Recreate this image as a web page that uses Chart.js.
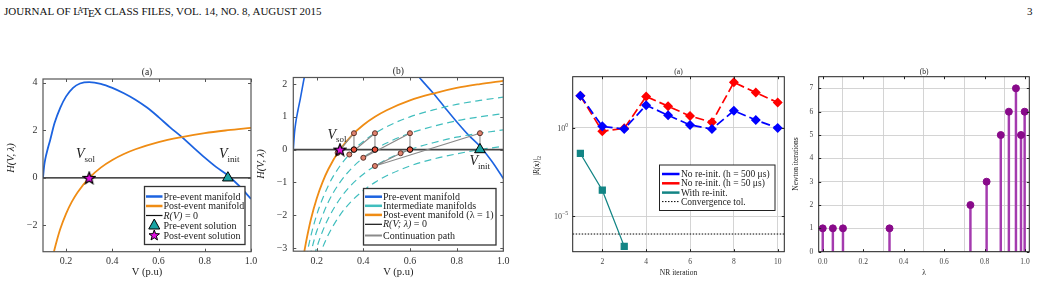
<!DOCTYPE html>
<html><head><meta charset="utf-8">
<script src="https://cdn.jsdelivr.net/npm/chart.js@4.4.1/dist/chart.umd.min.js"></script>
<style>
html,body{margin:0;padding:0;background:#fff;width:1041px;height:285px;overflow:hidden;}
canvas{position:absolute;left:0;top:0;}
#hdr{position:absolute;left:4px;top:5px;font-family:"Liberation Serif",serif;font-size:11px;color:#111;white-space:nowrap;}
#hdr .la{font-size:0.72em;position:relative;top:-0.25em;margin-left:-0.32em;margin-right:-0.12em;}
#hdr .le{position:relative;top:0.22em;margin-left:-0.1em;margin-right:-0.08em;}
#pg{position:absolute;left:1027px;top:5px;font-family:"Liberation Serif",serif;font-size:11px;color:#111;}
</style></head><body>
<div id="hdr">JOURNAL OF L<span class="la">A</span>T<span class="le">E</span>X CLASS FILES, VOL. 14, NO. 8, AUGUST 2015</div>
<div id="pg">3</div>
<canvas id="c1" width="1041" height="285"></canvas>
<canvas id="c2" width="1041" height="285"></canvas>
<canvas id="c3" width="1041" height="285"></canvas>
<canvas id="c4" width="1041" height="285"></canvas>
<script>
// ================= DATA =================
// Left figure: manifolds H(V, lambda)
const preV  = [0.1, 0.105, 0.11, 0.12, 0.13, 0.15, 0.175, 0.2, 0.23, 0.26, 0.3, 0.35, 0.4, 0.45, 0.5, 0.55, 0.6, 0.65, 0.7, 0.75, 0.8, 0.85, 0.9, 0.95, 1.0];
const preH  = [0, 0.5, 0.8, 1.2, 1.55, 2.3, 2.95, 3.42, 3.78, 3.96, 4.02, 3.95, 3.78, 3.55, 3.28, 2.95, 2.55, 2.12, 1.72, 1.28, 0.85, 0.45, 0.1, -0.35, -0.88];
const postV = [0.14, 0.15, 0.16, 0.175, 0.2, 0.225, 0.25, 0.3, 0.35, 0.4, 0.45, 0.5, 0.6, 0.7, 0.8, 0.9, 1.0];
const postH = [-3.43, -3.0, -2.63, -2.14, -1.5, -1.0, -0.6, 0, 0.43, 0.75, 1.0, 1.2, 1.5, 1.71, 1.88, 2.0, 2.1];
const mid1V = [0.155, 0.17, 0.2, 0.25, 0.3, 0.36, 0.4, 0.45, 0.5, 0.6, 0.7, 0.8, 0.9, 1.0];
const mid1H = [-3.31, -2.79, -2.0, -1.1, -0.5, 0, 0.25, 0.5, 0.7, 1.0, 1.21, 1.38, 1.5, 1.6];
const mid2V = [0.17, 0.19, 0.2, 0.25, 0.3, 0.35, 0.4, 0.45, 0.5, 0.6, 0.7, 0.8, 0.9, 1.0];
const mid2H = [-3.29, -2.74, -2.5, -1.6, -1.0, -0.57, -0.25, 0, 0.2, 0.5, 0.71, 0.88, 1.0, 1.1];
const mid3V = [0.19, 0.2, 0.225, 0.25, 0.3, 0.35, 0.4, 0.45, 0.5, 0.6, 0.7, 0.8, 0.9, 1.0];
const mid3H = [-3.24, -3.0, -2.5, -2.1, -1.5, -1.07, -0.75, -0.5, -0.3, 0, 0.21, 0.38, 0.5, 0.6];
const mid4V = [0.21, 0.225, 0.25, 0.3, 0.35, 0.4, 0.45, 0.5, 0.6, 0.7, 0.8, 0.9, 1.0];
const mid4H = [-3.29, -3.0, -2.6, -2.0, -1.57, -1.25, -1.0, -0.8, -0.5, -0.29, -0.13, 0, 0.1];
const zeroV = [0.1, 1.0];
const zeroH = [0, 0];
const pathV = [0.9, 0.9, 0.45, 0.56, 0.6, 0.6, 0.4, 0.45, 0.45, 0.34, 0.36, 0.36, 0.29, 0.3];
const pathH = [0, 0.5, -0.5, -0.11, 0, 0.5, -0.25, 0, 0.5, -0.15, 0, 0.5, -0.1, 0];
const initV = [0.9], initH = [0];
const solV  = [0.3], solH  = [0];
const vTicks  = [0.2, 0.4, 0.6, 0.8, 1.0];
const hTicksA = [-2, 0, 2, 4];
const hTicksB = [-3, -2, -1, 0, 1, 2];
// Right figure (a): NR residual norms
const nrIter   = [1, 2, 3, 4, 5, 6, 7, 8, 9, 10];
const resH500  = [66, 1.23, 0.87, 19.5, 5.2, 1.48, 0.87, 9.5, 2.8, 1.0];
const resH50   = [66, 0.65, 0.95, 60, 17, 4.8, 2.1, 380, 100, 27.5];
const reinitIter = [1, 2, 3];
const resReinit  = [0.036, 3.0e-4, 2.0e-7];
const tolX = [0.65, 10.3];
const tolY = [1e-6, 1e-6];
const nrTicks  = [2, 4, 6, 8, 10];
const resTicks = [1e-5, 1];
// Right figure (b): Newton iterations per continuation step
const lambdaSteps  = [0, 0.05, 0.1, 0.33, 0.73, 0.81, 0.88, 0.92, 0.955, 0.98, 0.998];
const newtonIters  = [1, 1, 1, 1, 2, 3, 5, 6, 7, 5, 6];
const lamTicks = [0, 0.2, 0.4, 0.6, 0.8, 1.0];
const itTicks  = [0, 1, 2, 3, 4, 5, 6, 7];

// ================= HELPERS =================
const W = 1041, H = 285, YW = 40, XH = 25;
const SERIF = '"Liberation Serif", "DejaVu Serif", serif';
const xy = (xs, ys) => xs.map((x, i) => ({x: x, y: ys[i]}));
const minus = v => String(v).replace('-', '\u2212');

const BLUE = '#1c63e0', ORANGE = '#ef8c14', TEAL_D = '#40bebe', TRI = '#19a3a3', MAG = '#e010e0';

function starPath(ctx, cx, cy, R, r) {
  ctx.beginPath();
  for (let i = 0; i < 10; i++) {
    const a = -Math.PI / 2 + i * Math.PI / 5;
    const rr = i % 2 ? r : R;
    const px = cx + rr * Math.cos(a), py = cy + rr * Math.sin(a);
    i ? ctx.lineTo(px, py) : ctx.moveTo(px, py);
  }
  ctx.closePath();
}
function triPath(ctx, cx, cy, s) {
  ctx.beginPath();
  ctx.moveTo(cx, cy - s * 0.6);
  ctx.lineTo(cx + s * 0.55, cy + s * 0.4);
  ctx.lineTo(cx - s * 0.55, cy + s * 0.4);
  ctx.closePath();
}
const starImg = (() => {
  const c = document.createElement('canvas'); c.width = 14; c.height = 14;
  const g = c.getContext('2d');
  starPath(g, 7, 7.5, 6.3, 2.7);
  g.fillStyle = MAG; g.fill(); g.lineWidth = 1.2; g.strokeStyle = '#000'; g.stroke();
  return c;
})();

function drawParts(ctx, parts, x, y, align) {
  let total = 0;
  parts.forEach(p => { ctx.font = p.f; total += ctx.measureText(p.t).width; });
  let cx = align === 'center' ? x - total / 2 : (align === 'right' ? x - total : x);
  parts.forEach(p => {
    ctx.font = p.f; ctx.textAlign = 'left';
    ctx.fillText(p.t, cx, y + (p.dy || 0));
    cx += ctx.measureText(p.t).width;
  });
}

const decoPlugin = {
  id: 'deco',
  afterDraw(chart, args, o) {
    const ctx = chart.ctx, a = chart.chartArea;
    const xs = chart.scales.x, ys = chart.scales.y;
    ctx.save();
    ctx.strokeStyle = o.boxColor; ctx.lineWidth = 1;
    ctx.beginPath();
    const L = o.tickLen;
    xs.ticks.forEach(t => {
      const p = Math.round(xs.getPixelForValue(t.value)) + 0.5;
      ctx.moveTo(p, a.bottom); ctx.lineTo(p, a.bottom - L);
      ctx.moveTo(p, a.top); ctx.lineTo(p, a.top + L);
    });
    ys.ticks.forEach(t => {
      const p = Math.round(ys.getPixelForValue(t.value)) + 0.5;
      ctx.moveTo(a.left, p); ctx.lineTo(a.left + L, p);
      ctx.moveTo(a.right, p); ctx.lineTo(a.right - L, p);
    });
    ctx.stroke();
    ctx.lineWidth = o.boxWidth; ctx.strokeStyle = o.boxColor;
    ctx.strokeRect(a.left, a.top, a.right - a.left, a.bottom - a.top);
    // power-of-ten labels (log axis) drawn with real superscripts
    if (o.powLabels) {
      ctx.fillStyle = o.powLabels.color; ctx.textBaseline = 'middle';
      ys.ticks.forEach(t => {
        const p = ys.getPixelForValue(t.value);
        const e = Math.round(Math.log10(t.value));
        drawParts(ctx, [{t: '10', f: o.powLabels.f}, {t: minus(e), f: o.powLabels.fs, dy: -3.5}], a.left - 4.5, p + 1, 'right');
      });
    }
    if (o.legend) {
      const g = o.legend;
      ctx.fillStyle = '#fff'; ctx.fillRect(g.x, g.y, g.w, g.h);
      ctx.lineWidth = g.bw; ctx.strokeStyle = g.bc; ctx.strokeRect(g.x, g.y, g.w, g.h);
      g.items.forEach((it, i) => {
        const y = g.rows[i];
        ctx.setLineDash([]);
        if (it.kind === 'line') {
          ctx.beginPath(); ctx.setLineDash(it.dash || []);
          ctx.strokeStyle = it.color; ctx.lineWidth = it.width;
          ctx.moveTo(g.s0, y); ctx.lineTo(g.s1, y); ctx.stroke(); ctx.setLineDash([]);
        } else if (it.kind === 'tri') {
          triPath(ctx, (g.s0 + g.s1) / 2, y - 0.5, 10);
          ctx.fillStyle = TRI; ctx.fill(); ctx.lineWidth = 1; ctx.strokeStyle = '#000'; ctx.stroke();
        } else if (it.kind === 'star') {
          starPath(ctx, (g.s0 + g.s1) / 2, y, 5.5, 2.3);
          ctx.fillStyle = MAG; ctx.fill(); ctx.lineWidth = 1; ctx.strokeStyle = '#000'; ctx.stroke();
        }
        ctx.fillStyle = '#222'; ctx.textBaseline = 'middle';
        drawParts(ctx, it.parts, g.tx, y + 0.5, 'left');
      });
    }
    (o.texts || []).forEach(t => {
      ctx.save();
      ctx.fillStyle = t.color || '#222';
      ctx.textBaseline = t.baseline || 'middle';
      ctx.translate(t.x, t.y);
      if (t.rot) ctx.rotate(t.rot);
      drawParts(ctx, t.parts, 0, 0, t.align || 'center');
      ctx.restore();
    });
    ctx.restore();
  }
};

function scale(opt) {
  return {
    type: opt.type || 'linear', min: opt.min, max: opt.max,
    afterBuildTicks: s => { s.ticks = opt.ticks.map(v => ({value: v})); },
    afterFit: s => { if (opt.axis === 'x') s.height = XH; else s.width = YW; },
    grid: {display: !!opt.grid, drawTicks: false, color: '#cfcfcf', lineWidth: 0.9},
    border: {display: false},
    ticks: {
      display: opt.showLabels !== false,
      autoSkip: false, maxRotation: 0, padding: opt.pad, color: opt.color || '#333',
      font: {family: SERIF, size: opt.fs},
      callback: opt.fmt
    }
  };
}
function baseOptions(area, xs, ys, deco) {
  return {
    responsive: false, animation: false, devicePixelRatio: 1, events: [],
    layout: {padding: {left: area[0] - YW, top: area[1], right: W - area[2], bottom: H - area[3] - XH}},
    plugins: {legend: {display: false}, tooltip: {enabled: false}, title: {display: false}, deco: deco},
    scales: {x: xs, y: ys}
  };
}
const f1 = v => Number(v).toFixed(1);
const fi = v => minus(v);
const ital = s => 'italic ' + s + 'px ' + SERIF;
const reg = s => s + 'px ' + SERIF;

// ================= CHART 1 (left a) =================
const A1 = [43, 79, 251, 251.7];
new Chart(document.getElementById('c1'), {
  type: 'scatter',
  data: {datasets: [
    {data: xy(solV, solH), pointStyle: starImg, pointRadius: 7, order: 0, clip: 8},
    {data: xy(initV, initH), pointStyle: 'triangle', pointRadius: 6.2, backgroundColor: TRI, borderColor: '#000', borderWidth: 1, order: 1, clip: 8},
    {data: xy(zeroV, zeroH), showLine: true, borderColor: '#111', borderWidth: 1.4, pointRadius: 0, order: 2, clip: 0},
    {data: xy(postV, postH), showLine: true, borderColor: ORANGE, borderWidth: 1.8, pointRadius: 0, cubicInterpolationMode: 'monotone', order: 3, clip: 0},
    {data: xy(preV, preH), showLine: true, borderColor: BLUE, borderWidth: 1.8, pointRadius: 0, cubicInterpolationMode: 'monotone', order: 4, clip: 0}
  ]},
  options: baseOptions(A1,
    scale({axis: 'x', min: 0.1, max: 1.0, ticks: vTicks, fmt: f1, fs: 10, pad: 3.5}),
    scale({axis: 'y', min: -3.1, max: 4.15, ticks: hTicksA, fmt: fi, fs: 10, pad: 5.5}),
    {
      boxColor: '#555', boxWidth: 1.2, tickLen: 3,
      legend: {x: 144.5, y: 186.5, w: 100.5, h: 58, bw: 1.3, bc: '#333', s0: 146, s1: 162.5, tx: 163.5,
        rows: [196.5, 206, 215.5, 225.5, 235.5],
        items: [
          {kind: 'line', color: BLUE, width: 2.5, parts: [{t: 'Pre-event manifold', f: reg(10)}]},
          {kind: 'line', color: ORANGE, width: 2.5, parts: [{t: 'Post-event manifold', f: reg(10)}]},
          {kind: 'line', color: '#111', width: 1.2, parts: [{t: 'R(V)', f: ital(10)}, {t: ' = 0', f: reg(10)}]},
          {kind: 'tri', parts: [{t: 'Pre-event solution', f: reg(10)}]},
          {kind: 'star', parts: [{t: 'Post-event solution', f: reg(10)}]}
        ]},
      texts: [
        {x: 147, y: 72.5, parts: [{t: '(a)', f: reg(9.5)}]},
        {x: 147, y: 272.5, parts: [{t: 'V (p.u)', f: reg(10.5)}]},
        {x: 11, y: 158, rot: -Math.PI / 2, parts: [{t: 'H(V, \u03BB)', f: ital(10.5)}]},
        {x: 76, y: 158, align: 'left', baseline: 'alphabetic', parts: [{t: 'V', f: ital(14)}, {t: 'sol', f: reg(9), dy: 4}]},
        {x: 219, y: 158, align: 'left', baseline: 'alphabetic', parts: [{t: 'V', f: ital(14)}, {t: 'init', f: reg(9), dy: 4}]}
      ]
    })
  , plugins: [decoPlugin]
});

// ================= CHART 2 (left b) =================
const A2 = [293.3, 77.5, 503.3, 251.2];
const pathR  = pathV.map((v, i) => (i === 0 || i === pathV.length - 1) ? 0 : (pathH[i] === 0 ? 2.8 : 2.5));
const pathBg = pathH.map(h => h === 0 ? '#e8503a' : '#e0826e');
const pathBd = pathH.map(h => h === 0 ? '#000' : '#5a3028');
new Chart(document.getElementById('c2'), {
  type: 'scatter',
  data: {datasets: [
    {data: xy(solV, solH), pointStyle: starImg, pointRadius: 7, order: 0, clip: 8},
    {data: xy(initV, initH), pointStyle: 'triangle', pointRadius: 6.2, backgroundColor: TRI, borderColor: '#000', borderWidth: 1, order: 1, clip: 8},
    {data: xy(pathV, pathH), showLine: true, borderColor: '#8a8a8a', borderWidth: 1.1, pointRadius: pathR,
      pointBackgroundColor: pathBg, pointBorderColor: pathBd, pointBorderWidth: 1, order: 2, clip: 4},
    {data: xy(zeroV, zeroH), showLine: true, borderColor: '#444', borderWidth: 1.8, pointRadius: 0, order: 3, clip: 0},
    {data: xy(postV, postH), showLine: true, borderColor: ORANGE, borderWidth: 1.8, pointRadius: 0, cubicInterpolationMode: 'monotone', order: 4, clip: 0},
    {data: xy(mid1V, mid1H), showLine: true, borderColor: TEAL_D, borderWidth: 1.2, borderDash: [7, 4.5], pointRadius: 0, cubicInterpolationMode: 'monotone', order: 5, clip: 0},
    {data: xy(mid2V, mid2H), showLine: true, borderColor: TEAL_D, borderWidth: 1.2, borderDash: [7, 4.5], pointRadius: 0, cubicInterpolationMode: 'monotone', order: 6, clip: 0},
    {data: xy(mid3V, mid3H), showLine: true, borderColor: TEAL_D, borderWidth: 1.2, borderDash: [7, 4.5], pointRadius: 0, cubicInterpolationMode: 'monotone', order: 7, clip: 0},
    {data: xy(mid4V, mid4H), showLine: true, borderColor: TEAL_D, borderWidth: 1.2, borderDash: [7, 4.5], pointRadius: 0, cubicInterpolationMode: 'monotone', order: 8, clip: 0},
    {data: xy(preV, preH), showLine: true, borderColor: BLUE, borderWidth: 1.6, pointRadius: 0, cubicInterpolationMode: 'monotone', order: 9, clip: 0}
  ]},
  options: baseOptions(A2,
    scale({axis: 'x', min: 0.1, max: 1.0, ticks: vTicks, fmt: f1, fs: 10, pad: 4}),
    scale({axis: 'y', min: -3.1, max: 2.2, ticks: hTicksB, fmt: fi, fs: 10, pad: 6}),
    {
      boxColor: '#555', boxWidth: 1.2, tickLen: 3,
      legend: {x: 363.5, y: 188.5, w: 132.5, h: 56.5, bw: 1.3, bc: '#333', s0: 365, s1: 382, tx: 383,
        rows: [196.7, 205.8, 214.9, 224.3, 235.5],
        items: [
          {kind: 'line', color: BLUE, width: 2.5, parts: [{t: 'Pre-event manifold', f: reg(10)}]},
          {kind: 'line', color: TEAL_D, width: 2.5, parts: [{t: 'Intermediate manifolds', f: reg(10)}]},
          {kind: 'line', color: ORANGE, width: 2.5, parts: [{t: 'Post-event manifold (\u03BB = 1)', f: reg(10)}]},
          {kind: 'line', color: '#111', width: 1.2, parts: [{t: 'R(V; \u03BB)', f: ital(10)}, {t: ' = 0', f: reg(10)}]},
          {kind: 'line', color: '#8a8a8a', width: 2, parts: [{t: 'Continuation path', f: reg(10)}]}
        ]},
      texts: [
        {x: 398.3, y: 71.7, parts: [{t: '(b)', f: reg(9.5)}]},
        {x: 398.3, y: 272.5, parts: [{t: 'V (p.u)', f: reg(10.5)}]},
        {x: 261, y: 164, rot: -Math.PI / 2, parts: [{t: 'H(V, \u03BB)', f: ital(10.5)}]},
        {x: 327.5, y: 138.5, align: 'left', baseline: 'alphabetic', parts: [{t: 'V', f: ital(14)}, {t: 'sol', f: reg(9), dy: 3.5}]},
        {x: 469.5, y: 165, align: 'left', baseline: 'alphabetic', parts: [{t: 'V', f: ital(14)}, {t: 'init', f: reg(9), dy: 3.5}]}
      ]
    })
  , plugins: [decoPlugin]
});

// ================= CHART 3 (right a) =================
const A3 = [572.7, 76.7, 784.3, 251.7];
new Chart(document.getElementById('c3'), {
  type: 'scatter',
  data: {datasets: [
    {data: xy(reinitIter, resReinit), showLine: true, borderColor: '#138585', borderWidth: 1.3, pointStyle: 'rect', pointRadius: 4.2,
      backgroundColor: '#138585', pointBorderColor: '#138585', order: 0, clip: 6},
    {data: xy(nrIter, resH500), showLine: true, borderColor: '#0000ff', borderWidth: 1.7, borderDash: [9, 4], pointStyle: 'rectRot', pointRadius: 3.8,
      backgroundColor: '#0000ff', pointBorderColor: '#0000ff', order: 1, clip: 6},
    {data: xy(nrIter, resH50), showLine: true, borderColor: '#ff0000', borderWidth: 1.7, borderDash: [9, 4], pointStyle: 'rectRot', pointRadius: 3.8,
      backgroundColor: '#ff0000', pointBorderColor: '#ff0000', order: 2, clip: 6},
    {data: xy(tolX, tolY), showLine: true, borderColor: '#000', borderWidth: 1, borderDash: [1.5, 1.5], pointRadius: 0, order: 3, clip: 0}
  ]},
  options: baseOptions(A3,
    scale({axis: 'x', min: 0.65, max: 10.3, ticks: nrTicks, fmt: v => String(v), fs: 7.5, pad: 5.5, grid: true, color: '#444'}),
    scale({axis: 'y', type: 'logarithmic', min: 1e-7, max: Math.pow(10, 2.9), ticks: resTicks, fmt: v => '', fs: 7.5, pad: 5, grid: true, color: '#444', showLabels: false}),
    {
      boxColor: '#222', boxWidth: 1, tickLen: 2.5,
      powLabels: {color: '#444', f: reg(8), fs: reg(5.8)},
      legend: {x: 659.5, y: 165, w: 115.5, h: 45.5, bw: 1, bc: '#222', s0: 662, s1: 679.5, tx: 681,
        rows: [174, 183.3, 192.6, 201.6],
        items: [
          {kind: 'line', color: '#0000ff', width: 2.5, parts: [{t: 'No re-init. (h = 500 \u03BCs)', f: reg(9.5)}]},
          {kind: 'line', color: '#ff0000', width: 2.5, parts: [{t: 'No re-init. (h = 50 \u03BCs)', f: reg(9.5)}]},
          {kind: 'line', color: '#138585', width: 2.5, parts: [{t: 'With re-init.', f: reg(9.5)}]},
          {kind: 'line', color: '#000', width: 1, dash: [1.5, 1.5], parts: [{t: 'Convergence tol.', f: reg(9.5)}]}
        ]},
      texts: [
        {x: 678.5, y: 71.7, parts: [{t: '(a)', f: reg(7.5)}]},
        {x: 678.5, y: 273.3, parts: [{t: 'NR iteration', f: reg(7.5)}]},
        {x: 537.5, y: 166, rot: -Math.PI / 2, parts: [{t: '|R(', f: ital(7.5)}, {t: 'x', f: 'bold italic 7.5px ' + SERIF}, {t: ')|', f: ital(7.5)}, {t: '2', f: reg(5.5), dy: 2}]}
      ]
    })
  , plugins: [decoPlugin]
});

// ================= CHART 4 (right b) =================
const A4 = [818.7, 76.7, 1029.3, 251.7];
new Chart(document.getElementById('c4'), {
  type: 'scatter',
  data: {datasets: [
    {type: 'scatter', data: xy(lambdaSteps, newtonIters), pointStyle: 'circle', pointRadius: 3.5,
      backgroundColor: '#880a8a', borderColor: '#880a8a', order: 0, clip: 6},
    {type: 'bar', data: xy(lambdaSteps, newtonIters), backgroundColor: '#a43aae', borderWidth: 0, barThickness: 1.8, order: 1, clip: 2}
  ]},
  options: baseOptions(A4,
    Object.assign(scale({axis: 'x', min: -0.02, max: 1.021, ticks: lamTicks, fmt: f1, fs: 7.5, pad: 5.5, grid: true, color: '#444'}), {offset: false}),
    scale({axis: 'y', min: 0, max: 7.5, ticks: itTicks, fmt: v => String(v), fs: 7.5, pad: 5.4, grid: true, color: '#444'}),
    {
      boxColor: '#222', boxWidth: 1, tickLen: 2.5,
      texts: [
        {x: 924, y: 71.7, parts: [{t: '(b)', f: reg(7.5)}]},
        {x: 924, y: 273, parts: [{t: '\u03BB', f: reg(7.5)}]},
        {x: 796.5, y: 164, rot: -Math.PI / 2, parts: [{t: 'Newton iterations', f: reg(7.5)}]}
      ]
    })
  , plugins: [decoPlugin]
});
</script>
</body></html>
